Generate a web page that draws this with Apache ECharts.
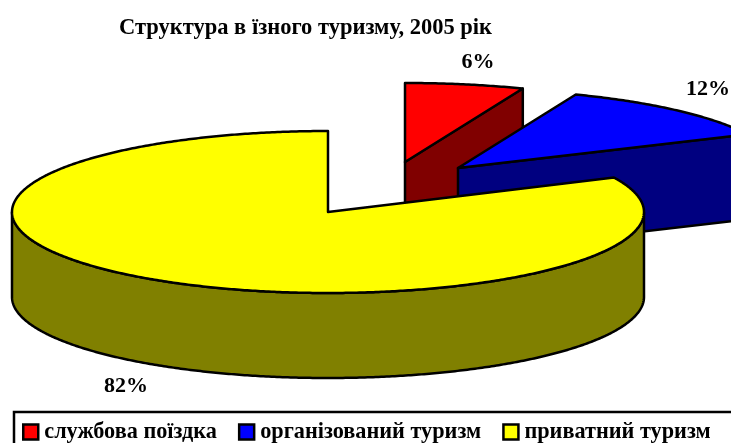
<!DOCTYPE html>
<html>
<head>
<meta charset="utf-8">
<title>Структура в їзного туризму</title>
<style>
  html, body { margin: 0; padding: 0; background: #fff; overflow: hidden; }
  #chart { width: 731px; height: 443px; }
</style>
<script src="https://cdn.jsdelivr.net/npm/echarts@6/dist/echarts.min.js"></script>
</head>
<body>
<div id="chart"></div>
<script>
const categories = ['службова поїздка', 'організований туризм', 'приватний туризм']
const shares = [6, 12, 82]

// look of the slices
const topColors = ['#ff0000', '#0000ff', '#ffff00']
const sideColors = ['#800000', '#000080', '#808000']
const centers = [[405, 162], [458, 168], [328, 212]]
const radii = [[320, 79], [320, 79], [316, 81]]
const labelSpots = [[478, 62], [708, 89], [126, 386]]
const depth = 85
const fontFamily = '"Liberation Serif", "Times New Roman", serif'

const total = shares.reduce((a, b) => a + b, 0)
const rad = d => d * Math.PI / 180

// angles run clockwise from the top of the pie
function sliceAngles(idx) {
  const before = shares.slice(0, idx).reduce((a, b) => a + b, 0)
  return [90 - before / total * 360, 90 - (before + shares[idx]) / total * 360]
}

function renderSlice(idx) {
  return function (params, api) {
    const [from, to] = sliceAngles(idx)
    const [cx, cy] = centers[idx]
    const [rx, ry] = radii[idx]
    const rim = a => [cx + rx * Math.cos(rad(a)), cy - ry * Math.sin(rad(a))]
    const down = p => [p[0], p[1] + depth]

    const arc = []
    for (let a = from; a > to; a -= 0.5) arc.push(rim(a))
    arc.push(rim(to))

    const style = (fill) => ({ fill, stroke: '#000', lineWidth: 2.5, lineJoin: 'round' })
    const children = []

    // cut face on the clockwise end, only when it turns towards the viewer
    if (Math.cos(rad(to)) > 0.001) {
      const p = rim(to)
      children.push({
        type: 'polygon',
        shape: { points: [[cx, cy], p, down(p), [cx, cy + depth]] },
        style: style(sideColors[idx])
      })
    }

    // outer wall, front half of the rim only
    const wall = arc.filter(p => p[1] >= cy)
    if (wall.length) {
      children.push({
        type: 'polygon',
        shape: { points: wall.concat(wall.map(down).reverse()) },
        style: style(sideColors[idx])
      })
    }

    children.push({
      type: 'polygon',
      shape: { points: [[cx, cy]].concat(arc) },
      style: style(topColors[idx])
    })

    children.push({
      type: 'text',
      style: {
        x: labelSpots[idx][0],
        y: labelSpots[idx][1],
        text: api.value(0) + '%',
        fill: '#000',
        font: 'bold 22px ' + fontFamily,
        align: 'center',
        verticalAlign: 'middle'
      }
    })

    return { type: 'group', children }
  }
}

const chart = echarts.init(document.getElementById('chart'), null, { renderer: 'canvas' })

chart.setOption({
  animation: false,
  backgroundColor: '#fff',
  title: {
    text: 'Структура в їзного туризму, 2005 рік',
    left: 119,
    top: 17,
    padding: 0,
    textStyle: { color: '#000', fontFamily, fontSize: 22.5, fontWeight: 'bold' }
  },
  legend: {
    left: 14,
    top: 412,
    width: 800,
    padding: [9, 60, 20, 8],
    orient: 'horizontal',
    itemWidth: 15,
    itemHeight: 15,
    itemGap: 21,
    icon: 'rect',
    borderColor: '#000',
    borderWidth: 2.5,
    itemStyle: { borderColor: '#000', borderWidth: 2.5 },
    textStyle: { color: '#000', fontFamily, fontSize: 22.25, fontWeight: 'bold', padding: [5, 0, 0, 1] },
    data: categories
  },
  series: categories.map((name, i) => ({
    type: 'custom',
    name,
    coordinateSystem: 'none',
    silent: true,
    itemStyle: { color: topColors[i] },
    renderItem: renderSlice(i),
    data: [shares[i]]
  }))
})

window.addEventListener('resize', () => chart.resize())
</script>
</body>
</html>
